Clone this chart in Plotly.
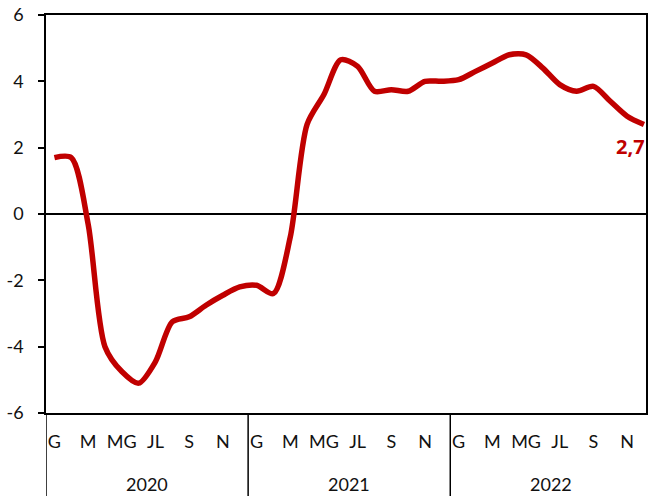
import plotly.graph_objects as go

# Monthly series, January 2020 - December 2022
years = ["2020", "2021", "2022"]
month_labels = ["G", "", "M", "", "MG", "", "JL", "", "S", "", "N", ""]
values_2020 = [1.7, 1.7, -0.3, -4.0, -4.75, -5.1, -4.45, -3.25, -3.1, -2.75, -2.45, -2.2]
values_2021 = [-2.15, -2.4, -0.7, 2.7, 3.6, 4.65, 4.45, 3.7, 3.75, 3.7, 4.0, 4.0]
values_2022 = [4.05, 4.3, 4.55, 4.8, 4.8, 4.4, 3.9, 3.7, 3.85, 3.4, 2.95, 2.7]
y_ticks = [-6, -4, -2, 0, 2, 4, 6]
last_label = "2,7"

values = values_2020 + values_2021 + values_2022
n = len(values)
idx = list(range(n))

RED = "#C00000"
FONT = "Lato"
TXT = "#111"

fig = go.Figure()
fig.add_trace(go.Scatter(
    x=idx, y=values, mode="lines",
    line=dict(color=RED, width=5.5, shape="spline", smoothing=0.8),
    hoverinfo="skip", showlegend=False, cliponaxis=True,
))

tickvals = [i for i in idx if month_labels[i % 12]]
ticktext = [month_labels[i % 12] for i in tickvals]

fig.update_xaxes(
    range=[-0.5, 35.12],
    tickmode="array", tickvals=tickvals, ticktext=ticktext,
    ticks="", showgrid=False, zeroline=False,
    showline=True, linecolor="black", linewidth=1.5, mirror=True,
    tickfont=dict(family=FONT, size=18, color=TXT),
    ticklabelstandoff=12,
)
fig.update_yaxes(
    range=[-6, 6],
    tickmode="array", tickvals=y_ticks, ticktext=[str(v) for v in y_ticks],
    ticks="outside", ticklen=6, tickwidth=1.5, tickcolor="black",
    showgrid=False, zeroline=True, zerolinecolor="black", zerolinewidth=2,
    showline=True, linecolor="black", linewidth=1.5, mirror=True,
    tickfont=dict(family=FONT, size=18, color=TXT),
    ticklabelstandoff=11,
)

# Year separators and year labels below the month row
for k, yr in enumerate(years):
    fig.add_shape(type="line", xref="x", yref="paper",
                  x0=12 * k - 0.5, x1=12 * k - 0.5, y0=0, y1=-0.3,
                  line=dict(color="black", width=1.5))
    fig.add_annotation(x=12 * k + 5.5, y=-0.178, xref="x", yref="paper",
                       text=yr, showarrow=False, yanchor="middle",
                       font=dict(family=FONT, size=18, color=TXT))

# Label on the latest value
fig.add_annotation(x=idx[-1], y=values[-1], xref="x", yref="y",
                   text=f"<b>{last_label}</b>", showarrow=False,
                   xanchor="right", yanchor="top", xshift=3, yshift=-7,
                   font=dict(family="Open Sans", size=20, color=RED, weight="bold"))

fig.update_layout(
    width=648, height=496,
    margin=dict(l=46, r=0, t=15, b=83),
    plot_bgcolor="white", paper_bgcolor="white",
)

fig.write_html("out.html")
